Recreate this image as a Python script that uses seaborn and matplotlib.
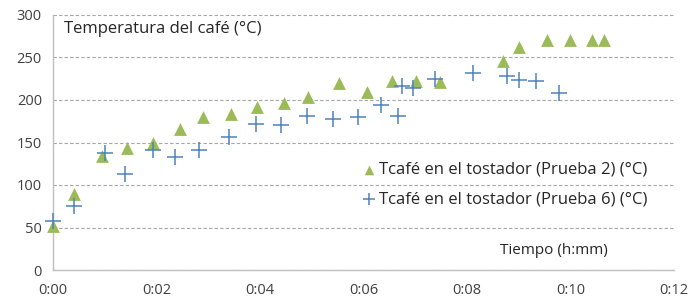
import numpy as np
import pandas as pd
import matplotlib
matplotlib.use("Agg")
import matplotlib.pyplot as plt
import seaborn as sns
from matplotlib.ticker import FuncFormatter, MultipleLocator

# Data (time in minutes, temperature in °C)
t_prueba2 = [0.0, 0.41, 0.95, 1.43, 1.93, 2.45, 2.9, 3.44, 3.94, 4.46, 4.93, 5.53,
             6.07, 6.55, 7.01, 7.48, 8.70, 9.0, 9.55, 9.99, 10.42, 10.65]
temp_prueba2 = [52, 90, 134, 144, 150, 166, 180, 183, 192, 196, 204, 220,
                209, 222, 222, 221, 246, 262, 271, 271, 271, 271]

t_prueba6 = [0.0, 0.41, 1.0, 1.39, 1.93, 2.36, 2.82, 3.40, 3.92, 4.41, 4.91, 5.41,
             5.89, 6.34, 6.67, 6.74, 6.96, 7.38, 8.12, 8.77, 9.0, 9.33, 9.78]
temp_prueba6 = [58, 75, 138, 113, 141, 133, 141, 156, 172, 170, 181, 178,
                180, 194, 181, 216, 214, 225, 232, 228, 223, 222, 208]

label2 = "Tcafé en el tostador (Prueba 2) (°C)"
label6 = "Tcafé en el tostador (Prueba 6) (°C)"

sns.set_style("white")
plt.rcParams['font.family'] = ['Open Sans', 'DejaVu Sans']

fig = plt.figure(figsize=(6.91, 3.04), dpi=100)
ax = fig.add_axes([53/691, 34/304, 621/691, 255/304])

sns.scatterplot(x=t_prueba2, y=temp_prueba2, marker='^', color='#9BBB59',
                s=85, edgecolor='#9BBB59', linewidth=0, label=label2, ax=ax,
                zorder=3, clip_on=False)
sns.scatterplot(x=t_prueba6, y=temp_prueba6, marker='+', color='#4F81BD',
                s=140, linewidth=1.1, label=label6, ax=ax, zorder=3, clip_on=False)

ax.set_xlim(0, 12)
ax.set_ylim(0, 300)
ax.xaxis.set_major_locator(MultipleLocator(2))
ax.yaxis.set_major_locator(MultipleLocator(50))
ax.xaxis.set_major_formatter(FuncFormatter(lambda v, p: f"0:{int(round(v)):02d}"))

ax.grid(axis='y', color='#a6a6a6', linestyle=(0, (3, 2)), linewidth=0.8)
ax.set_axisbelow(True)
for side in ['top', 'right']:
    ax.spines[side].set_visible(False)
for side in ['left', 'bottom']:
    ax.spines[side].set_color('#bfbfbf')
    ax.spines[side].set_linewidth(1.0)

ax.tick_params(axis='x', direction='out', length=5, color='#bfbfbf',
               labelsize=10.5, labelcolor='#404040', pad=4)
ax.tick_params(axis='y', length=0, labelsize=10.5, labelcolor='#404040', pad=8)

ax.set_xlabel("")
ax.set_ylabel("")
ax.text(0.018, 0.945, "Temperatura del café (°C)", transform=ax.transAxes,
        fontsize=12, color='#262626', va='center', ha='left')
ax.text(0.72, 0.075, "Tiempo (h:mm)", transform=ax.transAxes,
        fontsize=11, color='#262626', va='center', ha='left')

leg = ax.legend(loc='upper left', bbox_to_anchor=(0.484, 0.45), frameon=False,
                fontsize=12, handletextpad=0.1, labelspacing=0.8,
                handlelength=1.0, markerscale=0.75, borderaxespad=0)
for txt in leg.get_texts():
    txt.set_color('#262626')

fig.savefig("out.png", dpi=100)
